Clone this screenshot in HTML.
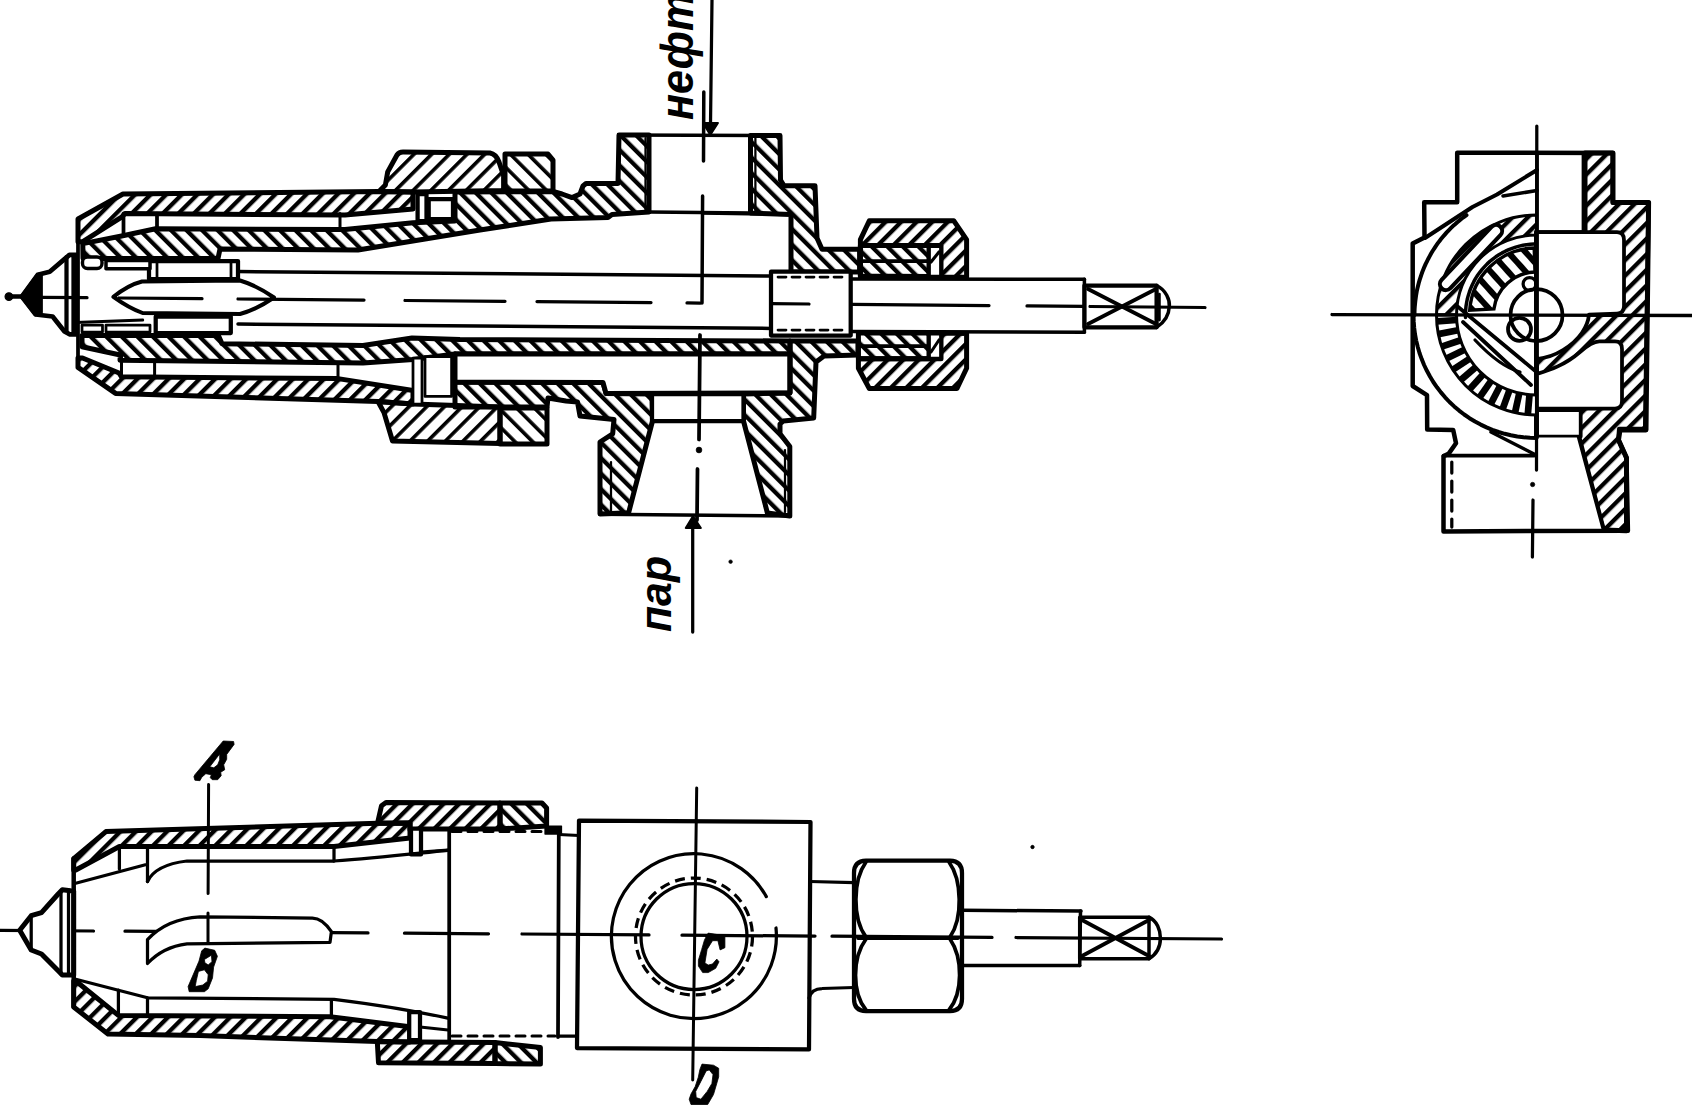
<!DOCTYPE html>
<html><head><meta charset="utf-8"><style>
html,body{margin:0;padding:0;background:#fff;}
body{width:1692px;height:1108px;overflow:hidden;}
svg{display:block;}
text{font-family:"Liberation Sans",sans-serif;font-weight:bold;font-style:italic;}
</style></head><body>
<svg width="1692" height="1108" viewBox="0 0 1692 1108">
<rect width="1692" height="1108" fill="#fff"/>

<defs>
<pattern id="hs" width="11" height="11" patternUnits="userSpaceOnUse" patternTransform="rotate(45)"><rect x="0" y="0" width="4.3" height="11" fill="#000"/></pattern>
<pattern id="hb" width="11" height="11" patternUnits="userSpaceOnUse" patternTransform="rotate(-45)"><rect x="0" y="0" width="4.3" height="11" fill="#000"/></pattern>
<pattern id="hs2" width="12.5" height="12.5" patternUnits="userSpaceOnUse" patternTransform="rotate(45)"><rect x="0" y="0" width="3.6" height="12.5" fill="#000"/></pattern>
<pattern id="hb2" width="12.5" height="12.5" patternUnits="userSpaceOnUse" patternTransform="rotate(-45)"><rect x="0" y="0" width="3.6" height="12.5" fill="#000"/></pattern>
<pattern id="hst" width="8" height="8" patternUnits="userSpaceOnUse" patternTransform="rotate(45)"><rect x="0" y="0" width="2.6" height="8" fill="#000"/></pattern>
<pattern id="hbt" width="8" height="8" patternUnits="userSpaceOnUse" patternTransform="rotate(-45)"><rect x="0" y="0" width="2.6" height="8" fill="#000"/></pattern>
<pattern id="hbs" width="13" height="13" patternUnits="userSpaceOnUse" patternTransform="rotate(-42)"><rect x="0" y="0" width="6" height="13" fill="#000"/></pattern>
</defs>

<polygon points="21.8,296.6 37.7,274.8 49.7,271.8 63.6,259.9 69.5,254.9 76.5,254.9 76.5,334.3 69.5,334.3 64.5,331.4 52.6,316.5 35.7,314.5" fill="#fff" stroke="#000" stroke-width="4.75" stroke-linejoin="round"/>
<polygon points="21.8,296.6 37.7,274.8 41.0,274.0 41.0,312.5 35.7,314.5" fill="#000" stroke="#000" stroke-width="3.75" stroke-linejoin="round"/>
<polyline points="66.5,257.0 66.5,332.0" fill="none" stroke="#000" stroke-width="4.25" stroke-linecap="round" stroke-linejoin="round"/>
<polyline points="73.5,256.0 73.5,333.0" fill="none" stroke="#000" stroke-width="4.25" stroke-linecap="round" stroke-linejoin="round"/>
<polyline points="8.9,296.6 22.0,296.6" fill="none" stroke="#000" stroke-width="4.50" stroke-linecap="round" stroke-linejoin="round"/>
<circle cx="8.9" cy="296.6" r="3.8" fill="#000" stroke="#000" stroke-width="1.25"/>
<polygon points="78.0,219.0 123.0,194.0 379.0,191.5 413.0,192.0 413.0,209.0 345.0,215.0 125.0,213.5 121.6,217.2 82.8,241.7 78.0,241.7" fill="url(#hs)" stroke="#000" stroke-width="5.00" stroke-linejoin="round"/>
<path d="M379,191.5 L385.4,184.9 L387.7,171.9 L397,155 Q399,152 403,152 L490,153 Q496,154 499,162 L503.6,175.5 L503.6,190.5 L413,192 Z" fill="url(#hs2)" stroke="#000" stroke-width="5" stroke-linejoin="round"/>
<polygon points="505.0,154.0 548.0,154.0 553.0,160.0 553.0,191.0 505.0,191.0" fill="url(#hb2)" stroke="#000" stroke-width="5.00" stroke-linejoin="round"/>
<polygon points="417.6,194.0 426.5,194.0 426.5,221.0 417.6,221.0" fill="#fff" stroke="#000" stroke-width="4.25" stroke-linejoin="round"/>
<polygon points="428.7,199.0 453.0,199.0 453.0,219.0 428.7,219.0" fill="#fff" stroke="#000" stroke-width="4.25" stroke-linejoin="round"/>
<polygon points="82.8,243.6 121.6,236.0 155.6,228.8 340.0,229.5 345.0,229.5 413.0,222.7 455.0,221.0 455.0,192.0 553.0,191.5 562.0,194.0 572.0,197.6 580.0,194.0 583.0,186.0 586.0,183.5 618.0,183.5 619.0,135.0 649.0,135.0 649.0,212.0 612.0,214.6 608.0,217.5 551.0,219.0 480.0,230.0 358.0,250.0 220.0,249.0 218.0,258.5 83.0,258.5" fill="url(#hb)" stroke="#000" stroke-width="5.00" stroke-linejoin="round"/>
<polyline points="123.5,213.5 123.5,236.0" fill="none" stroke="#000" stroke-width="3.75" stroke-linecap="round" stroke-linejoin="round"/>
<polyline points="157.0,213.5 157.0,229.0" fill="none" stroke="#000" stroke-width="3.75" stroke-linecap="round" stroke-linejoin="round"/>
<polyline points="340.0,213.5 340.0,230.0" fill="none" stroke="#000" stroke-width="3.00" stroke-linecap="round" stroke-linejoin="round"/>
<polygon points="750.5,135.5 780.0,135.5 780.5,180.0 784.0,185.7 815.0,185.7 817.0,238.0 822.0,249.3 859.6,249.3 859.6,272.0 791.0,272.0 791.0,214.6 750.5,213.0" fill="url(#hb)" stroke="#000" stroke-width="5.00" stroke-linejoin="round"/>
<polyline points="755.4,138.0 755.4,212.0" fill="none" stroke="#000" stroke-width="2.25" stroke-linecap="round" stroke-linejoin="round"/>
<polyline points="645.5,138.0 645.5,211.0" fill="none" stroke="#000" stroke-width="2.25" stroke-linecap="round" stroke-linejoin="round"/>
<polyline points="619.0,135.0 780.0,135.5" fill="none" stroke="#000" stroke-width="3.50" stroke-linecap="round" stroke-linejoin="round"/>
<polyline points="649.0,212.0 750.5,213.0" fill="none" stroke="#000" stroke-width="3.50" stroke-linecap="round" stroke-linejoin="round"/>
<polyline points="703.0,213.0 791.0,214.6" fill="none" stroke="#000" stroke-width="3.50" stroke-linecap="round" stroke-linejoin="round"/>
<polygon points="860.4,277.0 860.4,239.6 869.3,220.7 953.7,220.7 966.6,239.6 966.6,277.3 941.0,277.0 941.0,245.5 860.4,245.5" fill="url(#hs)" stroke="#000" stroke-width="5.00" stroke-linejoin="round"/>
<polygon points="860.4,245.5 929.0,245.5 929.0,276.5 860.4,276.0" fill="url(#hb)" stroke="#000" stroke-width="5.00" stroke-linejoin="round"/>
<polyline points="862.0,261.0 928.0,261.0" fill="none" stroke="#000" stroke-width="3.75" stroke-linecap="round" stroke-linejoin="round"/>
<polygon points="929.0,246.0 941.0,246.0 941.0,276.5 929.0,276.5" fill="#fff" stroke="#000" stroke-width="3.75" stroke-linejoin="round"/>
<polyline points="931.0,262.0 939.0,252.0" fill="none" stroke="#000" stroke-width="3.12" stroke-linecap="round" stroke-linejoin="round"/>
<path d="M113.4,296.8 C122,290 132,284 142,281.5 L240,280.5 C252,284 263,290 274,297.5 C263,305 252,311 240,314 L142.6,313 C132,309 122,303 113.4,296.8 Z" fill="#fff" stroke="#000" stroke-width="4.00" stroke-linecap="round" stroke-linejoin="round"/>
<polygon points="149.0,261.0 238.0,261.0 238.0,279.0 149.0,279.0" fill="#fff" stroke="#000" stroke-width="4.25" stroke-linejoin="round"/>
<polygon points="155.7,316.5 230.8,316.5 230.8,333.0 155.7,333.0" fill="#fff" stroke="#000" stroke-width="4.25" stroke-linejoin="round"/>
<polyline points="157.0,261.0 157.0,279.0" fill="none" stroke="#000" stroke-width="2.75" stroke-linecap="round" stroke-linejoin="round"/>
<polyline points="231.0,261.0 231.0,279.0" fill="none" stroke="#000" stroke-width="2.75" stroke-linecap="round" stroke-linejoin="round"/>
<polyline points="238.0,271.5 771.0,276.0" fill="none" stroke="#000" stroke-width="3.50" stroke-linecap="round" stroke-linejoin="round"/>
<polyline points="238.0,324.0 771.0,328.4" fill="none" stroke="#000" stroke-width="3.50" stroke-linecap="round" stroke-linejoin="round"/>
<polygon points="771.0,271.7 850.7,271.7 850.7,335.5 771.0,335.5" fill="#fff" stroke="#000" stroke-width="4.25" stroke-linejoin="round"/>
<polyline points="778.0,277.0 845.0,277.0" fill="none" stroke="#000" stroke-width="2.75" stroke-linecap="round" stroke-linejoin="round" stroke-dasharray="8 6"/>
<polyline points="778.0,330.0 845.0,330.0" fill="none" stroke="#000" stroke-width="2.75" stroke-linecap="round" stroke-linejoin="round" stroke-dasharray="8 6"/>
<polyline points="850.7,279.0 1084.4,279.3" fill="none" stroke="#000" stroke-width="3.50" stroke-linecap="round" stroke-linejoin="round"/>
<polyline points="850.7,331.5 1084.4,332.2" fill="none" stroke="#000" stroke-width="3.50" stroke-linecap="round" stroke-linejoin="round"/>
<polyline points="1084.4,279.3 1084.4,332.2" fill="none" stroke="#000" stroke-width="3.50" stroke-linecap="round" stroke-linejoin="round"/>
<polygon points="1084.4,285.5 1156.6,285.5 1156.6,327.3 1084.4,327.3" fill="none" stroke="#000" stroke-width="4.25" stroke-linejoin="round"/>
<polyline points="1088.0,289.0 1156.0,324.0" fill="none" stroke="#000" stroke-width="3.75" stroke-linecap="round" stroke-linejoin="round"/>
<polyline points="1088.0,324.0 1156.0,289.0" fill="none" stroke="#000" stroke-width="3.75" stroke-linecap="round" stroke-linejoin="round"/>
<path d="M1156.6,285.5 C1166,290 1170,300 1169.3,306.5 C1169,314 1165,322 1156.6,327.3" fill="none" stroke="#000" stroke-width="3.50" stroke-linecap="round" stroke-linejoin="round"/>
<polyline points="1159.4,294.0 1159.4,320.0" fill="none" stroke="#000" stroke-width="2.75" stroke-linecap="round" stroke-linejoin="round"/>
<polygon points="82.0,335.5 218.4,335.5 222.0,343.7 363.0,345.5 412.0,338.0 460.0,339.5 790.0,341.0 790.0,354.0 455.0,354.0 413.0,359.5 363.0,363.0 120.0,360.3 120.3,355.0 82.0,346.7" fill="url(#hb)" stroke="#000" stroke-width="5.00" stroke-linejoin="round"/>
<rect x="82.5" y="257" width="19.5" height="11.5" rx="5" fill="#fff" stroke="#000" stroke-width="3.4"/>
<polygon points="106.0,260.5 150.0,260.5 150.0,268.8 106.0,268.8" fill="#fff" stroke="#000" stroke-width="3.50" stroke-linejoin="round"/>
<polyline points="75.4,322.5 142.7,320.0" fill="none" stroke="#000" stroke-width="3.00" stroke-linecap="round" stroke-linejoin="round"/>
<polygon points="82.0,325.0 102.5,325.0 102.5,332.0 82.0,332.0" fill="none" stroke="#000" stroke-width="2.75" stroke-linejoin="round"/>
<polygon points="106.0,325.0 150.0,325.0 150.0,332.0 106.0,332.0" fill="none" stroke="#000" stroke-width="2.75" stroke-linejoin="round"/>
<polygon points="78.0,367.4 115.6,393.4 378.0,401.5 413.0,404.0 413.0,390.5 338.0,378.6 121.5,376.8 119.0,373.0 82.5,358.0 78.0,358.0" fill="url(#hs)" stroke="#000" stroke-width="5.00" stroke-linejoin="round"/>
<polyline points="121.5,355.5 121.5,376.0" fill="none" stroke="#000" stroke-width="3.00" stroke-linecap="round" stroke-linejoin="round"/>
<polyline points="154.6,360.0 154.6,376.0" fill="none" stroke="#000" stroke-width="3.00" stroke-linecap="round" stroke-linejoin="round"/>
<polyline points="338.0,363.0 338.0,378.6" fill="none" stroke="#000" stroke-width="3.00" stroke-linecap="round" stroke-linejoin="round"/>
<polyline points="78.0,221.0 78.0,367.4" fill="none" stroke="#000" stroke-width="3.75" stroke-linecap="round" stroke-linejoin="round"/>
<polygon points="378.0,401.5 384.0,412.6 392.5,441.0 500.0,443.5 500.0,407.0 413.0,404.0" fill="url(#hs2)" stroke="#000" stroke-width="5.00" stroke-linejoin="round"/>
<polygon points="500.0,408.0 547.0,408.0 547.0,444.0 500.0,444.0" fill="url(#hb2)" stroke="#000" stroke-width="5.00" stroke-linejoin="round"/>
<polygon points="413.0,358.0 422.0,358.0 422.0,404.0 413.0,404.0" fill="#fff" stroke="#000" stroke-width="2.75" stroke-linejoin="round"/>
<polygon points="425.0,356.5 451.6,356.5 451.6,396.4 425.0,396.4" fill="#fff" stroke="#000" stroke-width="2.75" stroke-linejoin="round"/>
<polygon points="455.0,354.0 455.0,382.0 603.0,382.5 606.0,393.4 652.0,394.0 652.5,421.0 628.6,512.8 600.0,514.0 600.0,442.0 612.7,433.8 614.0,419.5 580.0,416.0 577.5,402.0 566.0,401.0 548.0,398.0 547.0,407.0 455.0,407.0" fill="url(#hb)" stroke="#000" stroke-width="5.00" stroke-linejoin="round"/>
<polygon points="455.0,354.0 790.0,354.0 790.0,393.0 606.0,393.4 603.0,382.5 455.0,382.0" fill="#fff" stroke="#000" stroke-width="5.00" stroke-linejoin="round"/>
<polygon points="790.0,341.0 858.0,341.0 858.0,355.0 824.0,356.0 816.0,362.0 813.7,418.0 783.4,421.0 780.0,424.0 780.0,433.8 789.8,446.6 789.8,516.0 767.4,513.0 743.5,421.0 743.5,394.0 790.0,393.0" fill="url(#hb)" stroke="#000" stroke-width="5.00" stroke-linejoin="round"/>
<polygon points="652.0,394.0 743.5,394.0 743.5,421.0 652.0,421.0" fill="#fff" stroke="#000" stroke-width="4.25" stroke-linejoin="round"/>
<polyline points="600.0,514.2 789.8,516.0" fill="none" stroke="#000" stroke-width="3.50" stroke-linecap="round" stroke-linejoin="round"/>
<polyline points="611.0,462.0 611.0,512.0" fill="none" stroke="#000" stroke-width="2.25" stroke-linecap="round" stroke-linejoin="round"/>
<polyline points="785.0,450.0 785.0,512.0" fill="none" stroke="#000" stroke-width="2.25" stroke-linecap="round" stroke-linejoin="round"/>
<polygon points="858.4,358.7 941.0,358.7 941.0,333.0 966.6,333.6 966.6,368.3 957.0,388.5 869.3,388.5 858.4,368.3" fill="url(#hs)" stroke="#000" stroke-width="5.00" stroke-linejoin="round"/>
<polygon points="858.4,333.0 929.0,333.0 929.0,358.7 858.4,358.7" fill="url(#hb)" stroke="#000" stroke-width="5.00" stroke-linejoin="round"/>
<polyline points="860.0,346.0 928.0,346.0" fill="none" stroke="#000" stroke-width="3.75" stroke-linecap="round" stroke-linejoin="round"/>
<polygon points="929.0,333.5 941.0,333.5 941.0,358.5 929.0,358.5" fill="#fff" stroke="#000" stroke-width="3.75" stroke-linejoin="round"/>
<polyline points="931.0,352.0 939.0,340.0" fill="none" stroke="#000" stroke-width="3.12" stroke-linecap="round" stroke-linejoin="round"/>
<polyline points="703.8,92.0 703.5,161.0" fill="none" stroke="#000" stroke-width="3.50" stroke-linecap="round" stroke-linejoin="round"/>
<polyline points="702.6,196.0 702.0,303.0" fill="none" stroke="#000" stroke-width="3.50" stroke-linecap="round" stroke-linejoin="round"/>
<polyline points="700.0,335.0 699.0,439.5" fill="none" stroke="#000" stroke-width="3.75" stroke-linecap="round" stroke-linejoin="round"/>
<circle cx="699" cy="450" r="2.9" fill="#000" stroke="#000" stroke-width="0.62"/>
<polyline points="697.5,469.0 697.0,520.0" fill="none" stroke="#000" stroke-width="3.75" stroke-linecap="round" stroke-linejoin="round"/>
<polyline points="712.0,0.0 710.5,124.0" fill="none" stroke="#000" stroke-width="3.25" stroke-linecap="round" stroke-linejoin="round"/>
<polygon points="703.0,123.0 718.0,123.0 710.3,135.0" fill="#000" stroke="#000" stroke-width="1.88" stroke-linejoin="round"/>
<polyline points="692.7,528.0 692.7,632.0" fill="none" stroke="#000" stroke-width="3.25" stroke-linecap="round" stroke-linejoin="round"/>
<polygon points="685.7,528.0 700.9,528.0 693.0,516.0" fill="#000" stroke="#000" stroke-width="1.88" stroke-linejoin="round"/>
<circle cx="730.6" cy="561.7" r="1.8" fill="#000" stroke="#000" stroke-width="0.62"/>
<text transform="translate(692.5,120) rotate(-90) scale(0.92,1)" font-size="47">нефть</text>
<text transform="translate(671,632) rotate(-90)" font-size="44" textLength="76" lengthAdjust="spacingAndGlyphs">пар</text>
<polyline points="41.0,297.3 87.0,297.7" fill="none" stroke="#000" stroke-width="3.25" stroke-linecap="round" stroke-linejoin="round"/>
<polyline points="119.0,298.0 202.0,298.7" fill="none" stroke="#000" stroke-width="3.25" stroke-linecap="round" stroke-linejoin="round"/>
<polyline points="238.0,299.0 364.0,300.1" fill="none" stroke="#000" stroke-width="3.25" stroke-linecap="round" stroke-linejoin="round"/>
<polyline points="405.0,300.5 505.0,301.3" fill="none" stroke="#000" stroke-width="3.25" stroke-linecap="round" stroke-linejoin="round"/>
<polyline points="537.0,301.6 651.0,302.6" fill="none" stroke="#000" stroke-width="3.25" stroke-linecap="round" stroke-linejoin="round"/>
<polyline points="687.0,302.9 700.0,303.1" fill="none" stroke="#000" stroke-width="3.25" stroke-linecap="round" stroke-linejoin="round"/>
<polyline points="771.0,303.7 809.0,304.0" fill="none" stroke="#000" stroke-width="3.25" stroke-linecap="round" stroke-linejoin="round"/>
<polyline points="852.0,304.4 989.0,305.6" fill="none" stroke="#000" stroke-width="3.25" stroke-linecap="round" stroke-linejoin="round"/>
<polyline points="1027.0,305.9 1084.0,306.4" fill="none" stroke="#000" stroke-width="3.25" stroke-linecap="round" stroke-linejoin="round"/>
<polyline points="1090.0,306.5 1205.0,307.5" fill="none" stroke="#000" stroke-width="3.25" stroke-linecap="round" stroke-linejoin="round"/>
<polyline points="0.0,930.3 93.5,931.0" fill="none" stroke="#000" stroke-width="3.25" stroke-linecap="round" stroke-linejoin="round"/>
<polyline points="125.0,931.2 212.0,931.8" fill="none" stroke="#000" stroke-width="3.25" stroke-linecap="round" stroke-linejoin="round"/>
<polyline points="236.0,932.0 368.0,932.9" fill="none" stroke="#000" stroke-width="3.25" stroke-linecap="round" stroke-linejoin="round"/>
<polyline points="404.5,933.2 488.5,933.8" fill="none" stroke="#000" stroke-width="3.25" stroke-linecap="round" stroke-linejoin="round"/>
<polyline points="522.0,934.0 649.0,934.9" fill="none" stroke="#000" stroke-width="3.25" stroke-linecap="round" stroke-linejoin="round"/>
<polyline points="682.0,935.2 815.0,936.1" fill="none" stroke="#000" stroke-width="3.25" stroke-linecap="round" stroke-linejoin="round"/>
<polyline points="832.0,936.2 992.0,937.4" fill="none" stroke="#000" stroke-width="3.25" stroke-linecap="round" stroke-linejoin="round"/>
<polyline points="1016.0,937.5 1221.5,939.0" fill="none" stroke="#000" stroke-width="3.25" stroke-linecap="round" stroke-linejoin="round"/>
<polygon points="19.7,930.3 31.2,915.7 41.5,912.6 58.2,894.0 62.3,889.8 70.6,890.8 73.7,891.0 73.7,975.0 70.6,975.0 62.3,975.0 58.2,970.8 41.5,954.0 31.2,950.0" fill="#fff" stroke="#000" stroke-width="5.00" stroke-linejoin="round"/>
<polyline points="31.2,916.0 31.2,950.0" fill="none" stroke="#000" stroke-width="3.25" stroke-linecap="round" stroke-linejoin="round"/>
<polyline points="61.0,891.0 61.0,974.0" fill="none" stroke="#000" stroke-width="3.25" stroke-linecap="round" stroke-linejoin="round"/>
<polyline points="68.5,891.0 68.5,974.0" fill="none" stroke="#000" stroke-width="3.25" stroke-linecap="round" stroke-linejoin="round"/>
<polyline points="73.7,858.6 73.7,1007.0" fill="none" stroke="#000" stroke-width="4.50" stroke-linecap="round" stroke-linejoin="round"/>
<polygon points="73.7,858.6 105.9,831.6 377.5,823.3 410.0,823.0 410.0,838.0 334.0,846.5 119.4,846.5 75.8,870.0 73.7,870.0" fill="url(#hs)" stroke="#000" stroke-width="5.00" stroke-linejoin="round"/>
<polygon points="377.5,823.3 381.5,805.7 386.0,802.5 500.0,803.0 500.0,829.0 421.0,829.0 410.0,830.0 410.0,823.0" fill="url(#hs)" stroke="#000" stroke-width="5.00" stroke-linejoin="round"/>
<polygon points="500.0,803.0 542.0,803.0 546.6,808.0 546.6,826.0 500.0,829.0" fill="url(#hb)" stroke="#000" stroke-width="5.00" stroke-linejoin="round"/>
<polygon points="411.0,828.7 421.0,828.7 421.0,854.4 411.0,854.4" fill="#fff" stroke="#000" stroke-width="4.25" stroke-linejoin="round"/>
<polyline points="74.8,883.5 145.4,864.8" fill="none" stroke="#000" stroke-width="3.25" stroke-linecap="round" stroke-linejoin="round"/>
<polyline points="119.4,846.5 119.4,869.0" fill="none" stroke="#000" stroke-width="3.25" stroke-linecap="round" stroke-linejoin="round"/>
<polyline points="147.5,846.5 147.5,881.5" fill="none" stroke="#000" stroke-width="3.25" stroke-linecap="round" stroke-linejoin="round"/>
<path d="M147.5,881.5 C152,872 162,864 187,861 L334,861 C380,858 420,853 447.8,850.4" fill="none" stroke="#000" stroke-width="3.25" stroke-linecap="round" stroke-linejoin="round"/>
<polyline points="334.0,847.0 334.0,861.0" fill="none" stroke="#000" stroke-width="3.25" stroke-linecap="round" stroke-linejoin="round"/>
<polyline points="421.0,852.0 447.8,850.0" fill="none" stroke="#000" stroke-width="3.00" stroke-linecap="round" stroke-linejoin="round"/>
<path d="M147.5,939.6 L147.5,963.5 C158,952 170,946 187,943.8 L330,942.4 L331.4,931.6 C325,922 318,918 312.5,918 L200,916.8 C178,918 160,926 147.5,939.6 Z" fill="#fff" stroke="#000" stroke-width="3.25" stroke-linecap="round" stroke-linejoin="round"/>
<path d="M74.8,979 L147.5,997.8 L334,999.3 C380,1005 420,1012 447.8,1018.2" fill="none" stroke="#000" stroke-width="3.25" stroke-linecap="round" stroke-linejoin="round"/>
<polyline points="118.4,990.0 118.4,1015.4" fill="none" stroke="#000" stroke-width="3.25" stroke-linecap="round" stroke-linejoin="round"/>
<polyline points="147.5,997.8 147.5,1015.4" fill="none" stroke="#000" stroke-width="3.25" stroke-linecap="round" stroke-linejoin="round"/>
<polyline points="331.4,999.5 331.4,1016.5" fill="none" stroke="#000" stroke-width="3.25" stroke-linecap="round" stroke-linejoin="round"/>
<polygon points="73.7,1007.0 108.0,1034.0 200.0,1035.6 377.3,1041.6 410.0,1042.0 410.0,1027.0 405.7,1026.2 330.0,1016.7 118.4,1015.4 75.8,981.0 73.7,981.0" fill="url(#hs)" stroke="#000" stroke-width="5.00" stroke-linejoin="round"/>
<polygon points="377.3,1041.6 378.5,1062.8 495.0,1063.5 495.0,1042.5 420.0,1042.0 410.0,1042.0" fill="url(#hs)" stroke="#000" stroke-width="5.00" stroke-linejoin="round"/>
<polygon points="495.0,1042.5 540.4,1047.5 540.4,1064.0 495.0,1063.5" fill="url(#hb)" stroke="#000" stroke-width="5.00" stroke-linejoin="round"/>
<polygon points="409.2,1012.0 420.0,1012.0 420.0,1040.0 409.2,1040.0" fill="#fff" stroke="#000" stroke-width="4.25" stroke-linejoin="round"/>
<polyline points="420.0,1027.0 448.0,1030.0" fill="none" stroke="#000" stroke-width="3.00" stroke-linecap="round" stroke-linejoin="round"/>
<polyline points="449.2,828.7 449.2,1042.6" fill="none" stroke="#000" stroke-width="3.75" stroke-linecap="round" stroke-linejoin="round"/>
<polyline points="558.8,834.0 558.0,1037.0" fill="none" stroke="#000" stroke-width="3.75" stroke-linecap="round" stroke-linejoin="round"/>
<polyline points="452.0,831.4 555.0,831.4" fill="none" stroke="#000" stroke-width="3.00" stroke-linecap="round" stroke-linejoin="round" stroke-dasharray="9 7"/>
<polyline points="452.0,1036.0 555.0,1036.0" fill="none" stroke="#000" stroke-width="3.00" stroke-linecap="round" stroke-linejoin="round" stroke-dasharray="9 7"/>
<polygon points="545.0,826.0 561.5,826.0 561.5,834.0 545.0,834.0" fill="#000" stroke="#000" stroke-width="1.25" stroke-linejoin="round"/>
<polyline points="558.8,834.5 579.0,835.5" fill="none" stroke="#000" stroke-width="3.25" stroke-linecap="round" stroke-linejoin="round"/>
<polyline points="558.0,1036.0 577.0,1036.0" fill="none" stroke="#000" stroke-width="3.25" stroke-linecap="round" stroke-linejoin="round"/>
<polygon points="579.0,820.6 810.5,822.0 809.0,1049.4 577.0,1048.0" fill="none" stroke="#000" stroke-width="4.25" stroke-linejoin="round"/>
<path d="M766.3,896.6 A82.5,82.5 0 1 0 776,928" fill="none" stroke="#000" stroke-width="3.25" stroke-linecap="round" stroke-linejoin="round"/>
<circle cx="694" cy="936.5" r="53" fill="none" stroke="#000" stroke-width="3.25"/>
<circle cx="694" cy="936.5" r="58.5" fill="none" stroke="#000" stroke-width="3.25" stroke-dasharray="10 6"/>
<polyline points="696.7,788.0 692.7,1080.0" fill="none" stroke="#000" stroke-width="3.00" stroke-linecap="round" stroke-linejoin="round"/>
<polyline points="810.0,881.5 854.0,882.6" fill="none" stroke="#000" stroke-width="3.25" stroke-linecap="round" stroke-linejoin="round"/>
<path d="M809,998 C811,991 816,988.5 822,988.5 L854,987.5" fill="none" stroke="#000" stroke-width="3.25" stroke-linecap="round" stroke-linejoin="round"/>
<path d="M866,860.7 L950,860.7 Q962,861 962,873 L962,999 Q962,1011 950,1011 L866,1011 Q854,1011 854,999 L854,873 Q854,861 866,860.7 Z" fill="none" stroke="#000" stroke-width="4.25" stroke-linecap="round" stroke-linejoin="round"/>
<path d="M866,862 C853,880 852,918 866,937 M949,862 C962,880 963,918 950,937" fill="none" stroke="#000" stroke-width="3.75" stroke-linecap="round" stroke-linejoin="round"/>
<path d="M866,939 C852,958 852,993 866,1010 M950,939 C963,958 963,993 949,1010" fill="none" stroke="#000" stroke-width="3.75" stroke-linecap="round" stroke-linejoin="round"/>
<polyline points="858.0,938.0 958.0,938.0" fill="none" stroke="#000" stroke-width="3.75" stroke-linecap="round" stroke-linejoin="round"/>
<polyline points="962.2,910.3 1081.0,911.0" fill="none" stroke="#000" stroke-width="3.50" stroke-linecap="round" stroke-linejoin="round"/>
<polyline points="962.2,965.6 1079.7,965.6" fill="none" stroke="#000" stroke-width="3.50" stroke-linecap="round" stroke-linejoin="round"/>
<polyline points="1080.5,911.0 1079.7,965.6" fill="none" stroke="#000" stroke-width="3.50" stroke-linecap="round" stroke-linejoin="round"/>
<polygon points="1079.7,917.2 1149.0,917.2 1149.0,958.7 1079.7,958.7" fill="none" stroke="#000" stroke-width="3.50" stroke-linejoin="round"/>
<polyline points="1082.0,920.0 1149.0,956.0" fill="none" stroke="#000" stroke-width="3.75" stroke-linecap="round" stroke-linejoin="round"/>
<polyline points="1082.0,956.0 1149.0,920.0" fill="none" stroke="#000" stroke-width="3.75" stroke-linecap="round" stroke-linejoin="round"/>
<path d="M1149,917.2 C1157,921 1160.4,930 1160.4,938 C1160.4,946 1157,954 1149,958.7" fill="none" stroke="#000" stroke-width="3.50" stroke-linecap="round" stroke-linejoin="round"/>
<circle cx="1032.5" cy="847" r="1.6" fill="#000" stroke="#000" stroke-width="0.62"/>
<circle cx="1032.5" cy="847" r="1.6" fill="#000" stroke="#000" stroke-width="0.62"/>
<polyline points="208.6,784.5 208.1,893.4" fill="none" stroke="#000" stroke-width="3.00" stroke-linecap="round" stroke-linejoin="round"/>
<polyline points="208.0,913.0 208.0,942.5" fill="none" stroke="#000" stroke-width="3.00" stroke-linecap="round" stroke-linejoin="round"/>
<path d="M194.9,774.7 L223.2,741.0 L233.6,741.5 L234.1,744.4 L226.7,754.4 L226.7,759.3 L223.7,764.8 L224.7,769.8 L220.7,772.2 L221.2,775.7 L217.7,779.7 L212.3,779.7 L210.3,777.7 L211.3,774.7 L205.8,773.7 L201.8,777.2 L199.9,780.7 L194.9,780.2 L193.9,776.7 Z M209.8,766.8 L219.7,753.9 L219.7,759.8 L217.7,764.8 L213.8,767.8 Z" fill="#000" fill-rule="evenodd" stroke="#000" stroke-width="0.8" stroke-linejoin="round"/>
<path d="M188.1,986.6 L199.0,961.1 L201.7,950.8 L204.9,948.1 L214.7,950.3 L217.4,956.3 L213.6,967.1 L212.5,977.9 L208.2,988.8 L204.4,991.7 L189.2,991.7 Z M204.4,959.5 L211.4,955.2 L212.0,961.7 L208.2,964.9 L204.9,962.8 Z M198.4,971.4 L204.4,969.8 L208.2,974.7 L207.6,981.2 L202.8,985.0 L195.2,986.6 L196.3,980.6 Z" fill="#000" fill-rule="evenodd" stroke="#000" stroke-width="0.8" stroke-linejoin="round"/>
<path d="M708.2,933.1 L724.9,935.8 L724.9,947.7 L720.1,949.9 L717.9,940.7 L712.5,940.7 L707.1,949.4 L704.9,962.9 L708.2,965.1 L712.5,964.0 L716.8,959.1 L719.0,961.8 L715.7,968.3 L708.2,972.6 L702.7,972.6 L698.4,966.1 L698.4,960.2 L701.7,949.4 L704.4,940.2 L707.1,934.7 Z" fill="#000" fill-rule="evenodd" stroke="#000" stroke-width="0.8" stroke-linejoin="round"/>
<path d="M702.0,1064.1 L713.5,1065.2 L718.7,1068.3 L718.7,1076.7 L716.6,1084.0 L713.5,1094.5 L707.7,1104.5 L691.0,1104.5 L689.2,1099.2 L691.0,1094.0 L695.2,1086.6 L698.3,1077.2 L699.9,1069.4 Z M706.2,1070.9 L709.3,1069.9 L713.0,1074.6 L711.9,1083.5 L707.2,1091.4 L700.9,1099.2 L696.2,1097.6 L695.7,1091.4 L700.9,1081.4 Z" fill="#000" fill-rule="evenodd" stroke="#000" stroke-width="0.8" stroke-linejoin="round"/>
<polygon points="1585.0,153.0 1612.9,153.0 1612.9,202.6 1648.6,202.6 1646.0,430.0 1620.0,430.0 1618.5,440.0 1626.5,457.8 1626.5,530.7 1603.4,530.0 1578.8,437.0 1536.5,437.0 1536.5,232.0 1585.0,232.0" fill="url(#hs)" stroke="#000" stroke-width="5.00" stroke-linejoin="round"/>
<polygon points="1537.0,153.0 1583.5,153.0 1583.5,232.0 1537.0,232.0" fill="#fff" stroke="#000" stroke-width="3.75" stroke-linejoin="round"/>
<polyline points="1585.5,155.0 1585.5,231.0" fill="none" stroke="#000" stroke-width="2.75" stroke-linecap="round" stroke-linejoin="round"/>
<path d="M1537,232 L1617,232 Q1624,232 1624,240 L1624,306 Q1624,313.5 1617,313.5 L1589,314.5 C1588,326 1580,340 1563,350 C1555,355 1546,358 1537,359 Z" fill="#fff" stroke="#000" stroke-width="3.75" stroke-linecap="round" stroke-linejoin="round"/>
<path d="M1537,373.9 C1550,370 1565,365 1580,352 C1588,345 1595,341 1600,341.4 L1615,341.4 Q1622,341.4 1622,349 L1622,401 Q1622,408.6 1615,408.6 L1537,408.6 Z" fill="#fff" stroke="#000" stroke-width="3.75" stroke-linecap="round" stroke-linejoin="round"/>
<polygon points="1537.0,410.0 1580.7,410.0 1580.7,436.5 1537.0,436.5" fill="#fff" stroke="#000" stroke-width="3.75" stroke-linejoin="round"/>
<polygon points="1537,437.5 1578.8,437.5 1603.4,529 1537,529" fill="#fff" stroke="none"/>
<polyline points="1578.8,437.5 1603.4,529.0" fill="none" stroke="#000" stroke-width="3.75" stroke-linecap="round" stroke-linejoin="round"/>
<polyline points="1414.5,315.0 1414.5,312.1 1414.6,309.1 1414.8,306.2 1415.1,303.3 1415.4,300.4 1415.8,297.5 1416.2,294.6 1416.7,291.7 1417.3,288.9 1418.0,286.0 1418.7,283.2 1419.5,280.4 1420.4,277.6 1421.3,274.8 1422.3,272.0 1423.4,269.3 1424.5,266.6 1425.7,263.9 1427.0,261.3 1428.3,258.7 1429.7,256.1 1431.1,253.5 1432.6,251.0 1434.2,248.6 1435.8,246.1 1437.5,243.7 1439.2,241.4 1441.0,239.1 1442.9,236.8 1444.8,234.6 1446.7,232.4 1448.7,230.3 1450.8,228.2 1452.9,226.1 1455.1,224.2 1457.3,222.2 1459.5,220.4 1461.8,218.5 1464.1,216.8 1466.5,215.1" fill="none" stroke="#000" stroke-width="4.00" stroke-linecap="round" stroke-linejoin="round"/>
<polyline points="1413.5,315.0 1413.7,321.4 1414.2,327.9 1415.0,334.2 1416.2,340.6 1417.7,346.8 1419.5,353.0 1421.7,359.1 1424.1,365.0 1426.9,370.8 1430.0,376.5 1433.3,382.0 1437.0,387.3 1440.9,392.4 1445.1,397.3 1449.5,402.0 1454.2,406.4 1459.1,410.6 1464.2,414.5 1469.5,418.2 1475.0,421.5 1480.7,424.6 1486.5,427.4 1492.4,429.8 1498.5,432.0 1504.7,433.8 1510.9,435.3 1517.3,436.5 1523.6,437.3 1530.1,437.8 1536.5,438.0 1536.0,438.0" fill="none" stroke="#000" stroke-width="4.00" stroke-linecap="round" stroke-linejoin="round"/>
<polyline points="1425.0,238.0 1472.5,207.0 1497.0,194.5 1537.0,170.0" fill="none" stroke="#000" stroke-width="4.00" stroke-linecap="round" stroke-linejoin="round"/>
<polyline points="1503.0,196.0 1537.0,190.5" fill="none" stroke="#000" stroke-width="3.50" stroke-linecap="round" stroke-linejoin="round"/>
<polyline points="1491.0,432.0 1534.0,454.0" fill="none" stroke="#000" stroke-width="3.50" stroke-linecap="round" stroke-linejoin="round"/>
<path d="M1436.5,315.0 A100,100 0 0 1 1536.5,215.0 L1536.5,235.0 A80,80 0 0 0 1456.5,315.0 Z" fill="url(#hs)" stroke="#000" stroke-width="3"/>
<polyline points="1446.0,284.0 1496.0,231.0" fill="none" stroke="#000" stroke-width="16.25" stroke-linecap="round" stroke-linejoin="round"/>
<polyline points="1446.0,284.0 1496.0,231.0" fill="none" stroke="#fff" stroke-width="8.12" stroke-linecap="round" stroke-linejoin="round"/>
<path d="M1436.5,315.0 A100,100 0 0 0 1536.5,415.0 L1536.5,395.0 A80,80 0 0 1 1456.5,315.0 Z" fill="#fff" stroke="#000" stroke-width="3"/>
<polyline points="1529.5,394.7 1527.8,414.6" fill="none" stroke="#000" stroke-width="6.75" stroke-linecap="butt" stroke-linejoin="round"/>
<polyline points="1519.3,393.1 1515.0,412.7" fill="none" stroke="#000" stroke-width="6.75" stroke-linecap="butt" stroke-linejoin="round"/>
<polyline points="1509.4,390.3 1502.6,409.1" fill="none" stroke="#000" stroke-width="6.75" stroke-linecap="butt" stroke-linejoin="round"/>
<polyline points="1499.9,386.2 1490.8,403.9" fill="none" stroke="#000" stroke-width="6.75" stroke-linecap="butt" stroke-linejoin="round"/>
<polyline points="1491.1,380.9 1479.7,397.3" fill="none" stroke="#000" stroke-width="6.75" stroke-linecap="butt" stroke-linejoin="round"/>
<polyline points="1483.0,374.5 1469.6,389.3" fill="none" stroke="#000" stroke-width="6.75" stroke-linecap="butt" stroke-linejoin="round"/>
<polyline points="1475.8,367.1 1460.6,380.1" fill="none" stroke="#000" stroke-width="6.75" stroke-linecap="butt" stroke-linejoin="round"/>
<polyline points="1469.6,358.8 1452.8,369.8" fill="none" stroke="#000" stroke-width="6.75" stroke-linecap="butt" stroke-linejoin="round"/>
<polyline points="1464.5,349.8 1446.5,358.5" fill="none" stroke="#000" stroke-width="6.75" stroke-linecap="butt" stroke-linejoin="round"/>
<polyline points="1460.6,340.3 1441.6,346.6" fill="none" stroke="#000" stroke-width="6.75" stroke-linecap="butt" stroke-linejoin="round"/>
<polyline points="1458.0,330.3 1438.3,334.1" fill="none" stroke="#000" stroke-width="6.75" stroke-linecap="butt" stroke-linejoin="round"/>
<polyline points="1456.7,320.0 1436.7,321.3" fill="none" stroke="#000" stroke-width="6.75" stroke-linecap="butt" stroke-linejoin="round"/>
<polyline points="1465.5,317.5 1465.5,313.8 1465.7,310.0 1466.0,306.3 1466.6,302.7 1467.3,299.0 1468.3,295.4 1469.4,291.9 1470.7,288.4 1472.2,285.0 1473.8,281.7 1475.6,278.4 1477.6,275.3 1479.8,272.3 1482.1,269.4 1484.6,266.6 1487.2,263.9 1489.9,261.4 1492.8,259.1 1495.8,256.8 1498.9,254.8 1502.1,252.9 1505.4,251.2 1508.8,249.6 1512.2,248.3 1515.7,247.1 1519.3,246.1 1523.0,245.3 1526.6,244.7 1530.3,244.3 1534.0,244.0" fill="none" stroke="#000" stroke-width="3.50" stroke-linecap="round" stroke-linejoin="round"/>
<path d="M1469.7,310.3 A67,67 0 0 1 1534.2,248.0 L1535.0,272.0 A43,43 0 0 0 1493.9,309.0 Z" fill="url(#hbs)" stroke="#000" stroke-width="3.4"/>
<polyline points="1457.0,306.0 1536.5,372.0" fill="none" stroke="#000" stroke-width="3.75" stroke-linecap="round" stroke-linejoin="round"/>
<polyline points="1463.0,322.0 1531.0,385.0" fill="none" stroke="#000" stroke-width="3.75" stroke-linecap="round" stroke-linejoin="round"/>
<path d="M1475,340 C1490,356 1505,368 1520,372" fill="none" stroke="#000" stroke-width="3.25" stroke-linecap="round" stroke-linejoin="round"/>
<circle cx="1536.5" cy="315" r="26" fill="none" stroke="#000" stroke-width="3.75"/>
<circle cx="1519.5" cy="329.3" r="11.5" fill="none" stroke="#000" stroke-width="3.75"/>
<circle cx="1529.6" cy="284" r="6.5" fill="none" stroke="#000" stroke-width="3.25"/>
<polygon points="1457.2,152.7 1612.9,153.0 1612.9,202.6 1648.6,202.6 1645.2,429.0 1619.2,429.0 1618.5,440.0 1626.5,457.8 1627.9,530.7 1443.5,531.4 1443.5,456.3 1448.9,453.4 1456.0,443.3 1453.2,430.0 1427.2,429.6 1427.0,395.2 1412.7,386.0 1412.7,243.6 1424.5,237.5 1424.2,202.2 1457.2,202.2" fill="none" stroke="#000" stroke-width="4.50" stroke-linejoin="round"/>
<polyline points="1443.5,455.7 1534.0,455.7" fill="none" stroke="#000" stroke-width="3.75" stroke-linecap="round" stroke-linejoin="round"/>
<polyline points="1537.0,408.6 1537.0,437.0" fill="none" stroke="#000" stroke-width="3.75" stroke-linecap="round" stroke-linejoin="round"/>
<polyline points="1451.8,462.0 1451.8,527.0" fill="none" stroke="#000" stroke-width="3.25" stroke-linecap="round" stroke-linejoin="round" stroke-dasharray="11 8"/>
<polyline points="1536.8,126.0 1536.5,470.0" fill="none" stroke="#000" stroke-width="3.25" stroke-linecap="round" stroke-linejoin="round"/>
<polyline points="1533.0,500.0 1532.4,557.0" fill="none" stroke="#000" stroke-width="3.25" stroke-linecap="round" stroke-linejoin="round"/>
<circle cx="1532.6" cy="484.5" r="2.2" fill="#000" stroke="#000" stroke-width="0.62"/>
<polyline points="1332.0,314.5 1692.0,315.5" fill="none" stroke="#000" stroke-width="3.25" stroke-linecap="round" stroke-linejoin="round"/>
</svg>
</body></html>
